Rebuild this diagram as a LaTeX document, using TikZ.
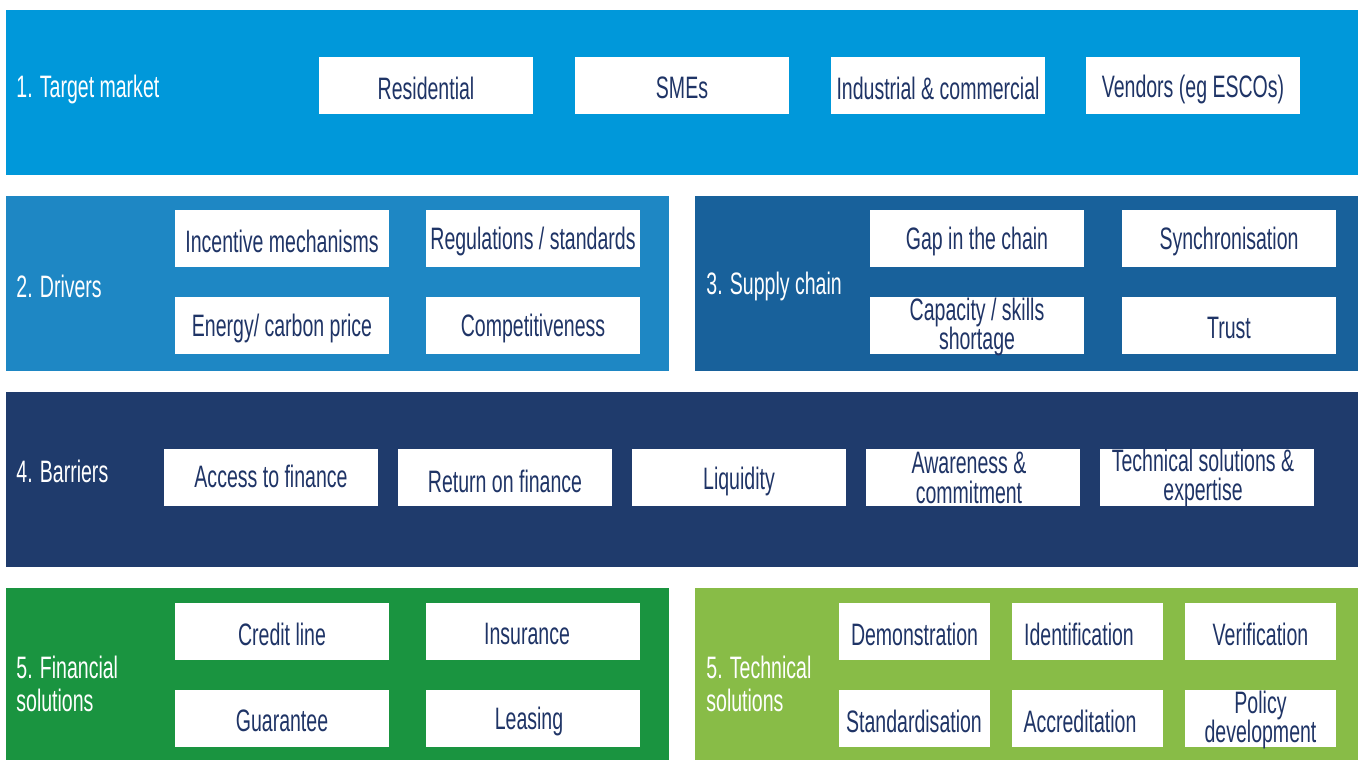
\documentclass[tikz,border=0pt]{standalone}
\usepackage{fontspec}
\setmainfont[FakeStretch=0.63]{Liberation Sans}
\definecolor{bandA}{HTML}{0098DA}
\definecolor{bandB}{HTML}{1E87C4}
\definecolor{bandC}{HTML}{18619B}
\definecolor{bandD}{HTML}{1F3B6C}
\definecolor{bandE}{HTML}{1A9440}
\definecolor{bandF}{HTML}{88BC47}
\definecolor{navytext}{HTML}{1F3466}
\tikzset{
  cell/.style={fill=white, minimum width=107pt, minimum height=28.5pt, inner sep=0pt},
  smallcell/.style={cell, minimum width=75.5pt},
  head/.style={text=white, anchor=west, inner sep=0pt, align=left, font=\fontsize{15.5}{16.5}\selectfont},
  lbl/.style={text=navytext, inner sep=0pt, align=center, font=\fontsize{15.5}{14.6}\selectfont},
}
\begin{document}
\begin{tikzpicture}[x=0.5pt,y=-0.5pt]
\useasboundingbox (0,0) rectangle (1360,760);
\fill[white] (0,0) rectangle (1360,760);
% bands
\fill[bandA] (6,10) rectangle (1358,175);
\fill[bandB] (6,196) rectangle (669,371);
\fill[bandC] (695,196) rectangle (1358,371);
\fill[bandD] (6,392) rectangle (1358,567);
\fill[bandE] (6,588) rectangle (669,760);
\fill[bandF] (695,588) rectangle (1358,760);
% headers
\node[head] (h1) at (16,89) {1. Target market};
\node[head] (h2) at (16,286) {2. Drivers};
\node[head] (h3) at (706,286) {3. Supply chain};
\node[head] (h4) at (16,471) {4. Barriers};
\node[head] (h5) at (16,684) {5. Financial\\solutions};
\node[head] (h6) at (706,684) {5. Technical\\solutions};
% target market
\node[cell] (res) at (426,85) {}; \node[lbl] (resT) at (426,88) {Residential};
\node[cell] (sme) at (682,85) {}; \node[lbl] (smeT) at (682,88) {SMEs};
\node[cell] (ind) at (938,85) {}; \node[lbl] (indT) at (938,88) {Industrial \& commercial};
\node[cell] (ven) at (1193,85) {}; \node[lbl] (venT) at (1193,89.5) {Vendors (eg ESCOs)};
% drivers
\node[cell] (inc) at (282,238.5) {}; \node[lbl] (incT) at (282,241) {Incentive mechanisms};
\node[cell] (reg) at (533,238.5) {}; \node[lbl] (regT) at (533,241) {Regulations / standards};
\node[cell] (ene) at (282,325.5) {}; \node[lbl] (eneT) at (282,328) {Energy/ carbon price};
\node[cell] (com) at (533,325.5) {}; \node[lbl] (comT) at (533,328) {Competitiveness};
% supply chain
\node[cell] (gap) at (977,238.5) {}; \node[lbl] (gapT) at (977,241) {Gap in the chain};
\node[cell] (syn) at (1229,238.5) {}; \node[lbl] (synT) at (1229,241) {Synchronisation};
\node[cell] (cap) at (977,325.5) {}; \node[lbl] (capT) at (977,327) {Capacity / skills\\shortage};
\node[cell] (tru) at (1229,325.5) {}; \node[lbl] (truT) at (1229,328) {Trust};
% barriers
\node[cell] (acc) at (271,477.5) {}; \node[lbl] (accT) at (271,476) {Access to finance};
\node[cell] (ret) at (505,477.5) {}; \node[lbl] (retT) at (505,481) {Return on finance};
\node[cell] (liq) at (739,477.5) {}; \node[lbl] (liqT) at (739,481) {Liquidity};
\node[cell] (awa) at (973,477.5) {}; \node[lbl] (awaT) at (969,478) {Awareness \&\\commitment};
\node[cell] (tec) at (1207,477.5) {}; \node[lbl] (tecT) at (1203,478) {Technical solutions \&\\expertise};
% financial
\node[cell] (cre) at (282,631.5) {}; \node[lbl] (creT) at (282,634) {Credit line};
\node[cell] (ins) at (533,631.5) {}; \node[lbl] (insT) at (527,634) {Insurance};
\node[cell] (gua) at (282,718.5) {}; \node[lbl] (guaT) at (282,721) {Guarantee};
\node[cell] (lea) at (533,718.5) {}; \node[lbl] (leaT) at (529,721) {Leasing};
% technical
\node[smallcell] (dem) at (914.5,631.5) {}; \node[lbl] (demT) at (914.5,634) {Demonstration};
\node[smallcell] (ide) at (1087.5,631.5) {}; \node[lbl] (ideT) at (1079,634) {Identification};
\node[smallcell] (ver) at (1260.5,631.5) {}; \node[lbl] (verT) at (1260.5,634) {Verification};
\node[smallcell] (sta) at (914.5,718.5) {}; \node[lbl] (staT) at (914,721) {Standardisation};
\node[smallcell] (acr) at (1087.5,718.5) {}; \node[lbl] (acrT) at (1080,721) {Accreditation};
\node[smallcell] (pol) at (1260.5,718.5) {}; \node[lbl] (polT) at (1260.5,720) {Policy\\development};
\end{tikzpicture}
\end{document}
